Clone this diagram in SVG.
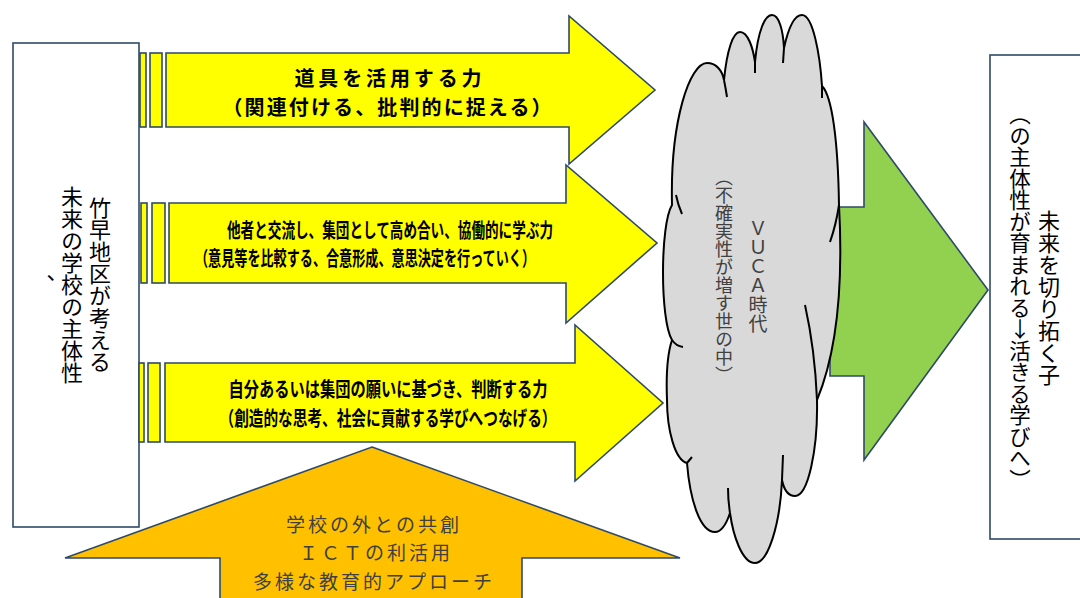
<svg xmlns="http://www.w3.org/2000/svg" width="1080" height="598" viewBox="0 0 1080 598">
<style>
.box{fill:#ffffff;stroke:#2f4a68;stroke-width:1.6}
.ya{fill:#ffff00;stroke:#2f4a68;stroke-width:1.6}
.vt{font-family:"Noto Sans CJK JP","Noto Sans",sans-serif;writing-mode:vertical-rl;text-orientation:upright;text-anchor:middle;fill:#000}
.yt{font-family:"Noto Sans CJK JP","Noto Sans",sans-serif;font-weight:bold;font-size:20px;text-anchor:middle;dominant-baseline:central;fill:#000}
.gt{font-family:"Noto Sans CJK JP","Noto Sans",sans-serif;fill:#404040;font-size:19px;text-anchor:middle;dominant-baseline:central}
.cl{fill:none;stroke:#000;stroke-width:2}
</style>
<rect width="1080" height="598" fill="#ffffff"/>
<g id="green-arrow">
<polygon points="830,207 864,207 864,122 988,290 864,460 864,376 830,376" fill="#92d050" stroke="#2f4a68" stroke-width="1.6"/>
</g>
<g id="left-box">
<rect class="box" x="13" y="43" width="126" height="484"/>
<text class="vt" x="100" y="285" font-size="22">竹早地区が考える</text>
<text class="vt" x="72" y="285" font-size="22">未来の学校の主体性</text>
<text class="vt" x="44" y="285" font-size="22">、</text>
</g>
<g id="arrow1">
<rect class="ya" x="140" y="53" width="6" height="74"/>
<rect class="ya" x="150" y="53" width="12" height="74"/>
<polygon class="ya" points="166,53 569,53 569,16 655,90 569,164 569,127 166,127"/>
<text class="yt" x="388" y="77" textLength="187" lengthAdjust="spacing">道具を活用する力</text>
<text class="yt" x="387" y="106" textLength="329" lengthAdjust="spacing">（関連付ける、批判的に捉える）</text>
</g>
<g id="arrow2">
<rect class="ya" x="141" y="203" width="6" height="80"/>
<rect class="ya" x="152" y="203" width="13" height="80"/>
<polygon class="ya" points="169,203 566,203 566,165 657,243 566,323 566,283 169,283"/>
<text class="yt" x="390" y="229" font-size="19" textLength="326" lengthAdjust="spacingAndGlyphs">他者と交流し、集団として高め合い、協働的に学ぶ力</text>
<text class="yt" x="365" y="257" font-size="19" textLength="340" lengthAdjust="spacingAndGlyphs">（意見等を比較する、合意形成、意思決定を行っていく）</text>
</g>
<g id="arrow3">
<rect class="ya" x="139" y="363" width="5" height="79"/>
<rect class="ya" x="148" y="363" width="12" height="79"/>
<polygon class="ya" points="165,363 575,363 575,325 663,403 575,481 575,442 165,442"/>
<text class="yt" x="388" y="388" textLength="319" lengthAdjust="spacingAndGlyphs">自分あるいは集団の願いに基づき、判断する力</text>
<text class="yt" x="388" y="417" textLength="337" lengthAdjust="spacingAndGlyphs">（創造的な思考、社会に貢献する学びへつなげる）</text>
</g>
<g id="orange-arrow">
<polygon points="372,447 680,558 522,558 522,602 220,602 220,558 65,558" fill="#ffc000" stroke="#2f4a68" stroke-width="1.6"/>
<text class="gt" x="374" y="523" letter-spacing="3">学校の外との共創</text>
<text class="gt" x="376" y="551" letter-spacing="3">ＩＣＴの利活用</text>
<text class="gt" x="374" y="580" letter-spacing="3">多様な教育的アプローチ</text>
</g>
<g id="cloud">
<path d="M672,205 C670,120 690,63 707,63 C716,63 722,70 724,80 C727,50 733,32 740,32 C748,32 753,48 755,62 C758,30 765,15 772,15 C779,15 783,30 784,48 C789,25 795,15 802,15 C813,15 820,55 822,86 C832,96 838,140 839,205 C842,260 842,340 817,400 C818,450 808,496 795,496 C788,496 784,490 782,480 C780,525 768,563 755,563 C742,563 733,535 730,513 C726,525 721,532 715,532 C700,532 690,500 687,463 C675,460 667,430 667,400 C666,375 668,352 672,340 C660,320 660,225 672,205 Z" fill="#d9d9d9" stroke="#000" stroke-width="2"/>
<path class="cl" d="M676,195 Q678,205 682,214 M724,80 Q726,90 727,97 M755,62 L755,73 M784,48 L783,63 M822,86 L822,98 M839,205 Q836,225 830,242 M672,340 Q676,346 683,347 M805,305 Q815,350 817,400 M687,463 L692,457 M730,513 Q728,500 728,488 M782,480 L783,455"/>
<text class="vt" x="758" y="276" font-size="19" style="fill:#404040">ＶＵＣＡ時代</text>
<text class="vt" x="724" y="276" font-size="18" style="fill:#404040">（不確実性が増す世の中）</text>
</g>
<g id="right-box">
<rect class="box" x="990" y="55" width="96" height="484"/>
<text class="vt" x="1049" y="298" font-size="22">未来を切り拓く子</text>
<text class="vt" x="1020" y="297" font-size="21.5">（の主体性が育まれる↓活きる学びへ）</text>
</g>
<g id="connectors"></g>
</svg>
